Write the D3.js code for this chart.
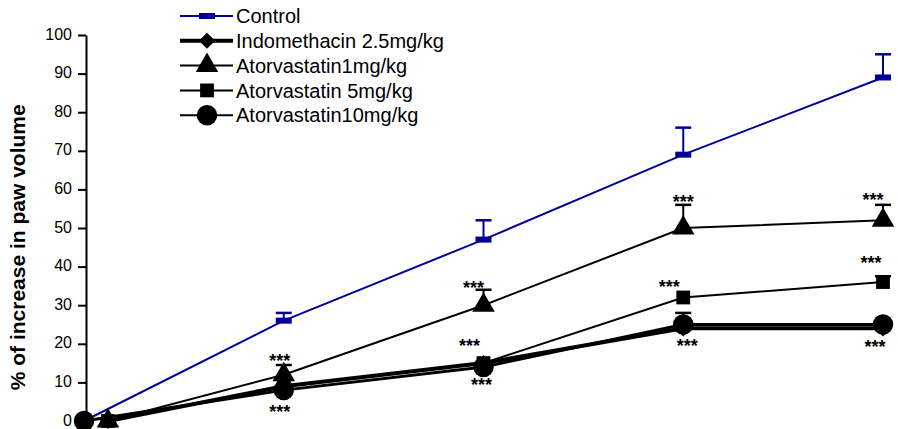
<!DOCTYPE html>
<html>
<head>
<meta charset="utf-8">
<script src="https://cdn.jsdelivr.net/npm/d3@7"></script>
<style>
  body { margin: 0; background: #fff; }
  svg { display: block; font-family: "Liberation Sans", Arial, sans-serif; }
</style>
</head>
<body>
<div id="chart"></div>
<script>
// time points (h)
const times = [0, 1, 2, 3, 4];
const timesShift = [0.12, 1, 2, 3, 4]; // first points drawn slightly right of the axis

const seriesNames = ["Control", "Indomethacin 2.5mg/kg", "Atorvastatin1mg/kg", "Atorvastatin 5mg/kg", "Atorvastatin10mg/kg"];
const control = [0, 26, 47, 69, 89];
const controlErr = [0, 2, 5, 7, 6];
const indomethacin = [0, 9, 15, 24, 24];
const indomethacinErr = [0, 0, 0, 0, 0];
const ator1 = [0, 12, 30, 50, 52];
const ator1Err = [0, 2.5, 4, 6, 4];
const ator5 = [0, 9, 15, 32, 36];
const ator5Err = [0, 0, 0, 0, 1.5];
const ator10 = [0, 8, 14, 25, 25];
const ator10Err = [0, 0, 0, 3, 0];

const yTicks = [0, 10, 20, 30, 40, 50, 60, 70, 80, 90, 100];

// significance marks: time, value
const starTimes = [0.98, 0.98, 1.95, 1.93, 1.99, 3.0, 2.93, 3.02, 3.95, 3.94, 3.96];
const starValues = [16.8, 3.6, 35.7, 20.7, 10.6, 58, 36, 20.7, 58.5, 42.2, 20.5];

const width = 898, height = 429;

const svg = d3.select("#chart").append("svg")
  .attr("width", width)
  .attr("height", height);

const x = d3.scaleLinear().domain([0, 4]).range([84, 883]);
const y = d3.scaleLinear().domain([0, 100]).range([421, 35]);

// y axis
const yAxis = svg.append("g")
  .attr("transform", "translate(86,0)")
  .call(d3.axisLeft(y).tickValues(yTicks).tickSize(8).tickPadding(6).tickSizeOuter(0));
yAxis.select(".domain").attr("stroke", "#000").attr("stroke-width", 2);
yAxis.selectAll(".tick line").attr("stroke", "#000").attr("stroke-width", 2);
yAxis.selectAll(".tick text")
  .attr("font-size", 16)
  .attr("dy", "0.25em")
  .attr("fill", "#000");

svg.append("text")
  .attr("transform", `translate(25,${y(45)}) rotate(-90)`)
  .attr("text-anchor", "middle")
  .attr("font-size", 21)
  .attr("font-weight", "bold")
  .text("% of increase in paw volume");

const symbols = {
  diamond: d3.symbol().type(d3.symbolSquare).size(130),
  triangle: d3.symbol().type(d3.symbolTriangle).size(220),
  square: d3.symbol().type(d3.symbolSquare).size(190),
  circle: d3.symbol().type(d3.symbolCircle).size(330)
};

const series = [
  { name: seriesNames[0], t: times, v: control, e: controlErr, color: "#000099", lw: 2, sym: "rect" },
  { name: seriesNames[3], t: timesShift, v: ator5, e: ator5Err, color: "#000", lw: 2, sym: "square" },
  { name: seriesNames[2], t: timesShift, v: ator1, e: ator1Err, color: "#000", lw: 2, sym: "triangle" },
  { name: seriesNames[1], t: timesShift, v: indomethacin, e: indomethacinErr, color: "#000", lw: 4, sym: "diamond" },
  { name: seriesNames[4], t: times, v: ator10, e: ator10Err, color: "#000", lw: 3, sym: "circle" }
];

const line = d3.line().x(d => x(d[0])).y(d => y(d[1]));

function drawMarker(g, sym, color) {
  if (sym === "rect") {
    g.append("rect").attr("x", -8).attr("y", -3).attr("width", 16).attr("height", 6).attr("fill", color);
  } else if (sym === "diamond") {
    g.append("path").attr("d", symbols.diamond()).attr("transform", "rotate(45)").attr("fill", color);
  } else {
    g.append("path").attr("d", symbols[sym]()).attr("fill", color);
  }
}

series.forEach(s => {
  const pts = s.t.map((t, i) => [t, s.v[i], s.e[i]]);
  const g = svg.append("g");
  g.append("path")
    .attr("d", line(pts))
    .attr("fill", "none")
    .attr("stroke", s.color)
    .attr("stroke-width", s.lw);
  // error bars (upper only)
  pts.filter(p => p[2] > 0).forEach(p => {
    g.append("line")
      .attr("x1", x(p[0])).attr("x2", x(p[0]))
      .attr("y1", y(p[1])).attr("y2", y(p[1] + p[2]))
      .attr("stroke", s.color).attr("stroke-width", 2);
    g.append("line")
      .attr("x1", x(p[0]) - 8).attr("x2", x(p[0]) + 8)
      .attr("y1", y(p[1] + p[2])).attr("y2", y(p[1] + p[2]))
      .attr("stroke", s.color).attr("stroke-width", 2.5);
  });
  pts.forEach(p => {
    const m = g.append("g").attr("transform", `translate(${x(p[0])},${y(p[1])})`);
    drawMarker(m, s.sym, s.color);
  });
});

// stars
svg.append("g").selectAll("text")
  .data(starTimes.map((t, i) => [t, starValues[i]]))
  .join("text")
    .attr("x", d => x(d[0]))
    .attr("y", d => y(d[1]))
    .attr("dy", "0.6em")
    .attr("text-anchor", "middle")
    .attr("font-size", 18)
    .attr("font-weight", "bold")
    .text("***");

// legend
const legendOrder = [
  { name: seriesNames[0], color: "#000099", lw: 2, sym: "rect" },
  { name: seriesNames[1], color: "#000", lw: 4, sym: "diamond" },
  { name: seriesNames[2], color: "#000", lw: 2, sym: "triangle" },
  { name: seriesNames[3], color: "#000", lw: 2, sym: "square" },
  { name: seriesNames[4], color: "#000", lw: 2, sym: "circle" }
];
const legend = svg.append("g").attr("transform", "translate(180,16)");
legendOrder.forEach((s, i) => {
  const row = legend.append("g").attr("transform", `translate(0,${i * 24.8})`);
  row.append("line").attr("x1", 0).attr("x2", 53).attr("stroke", s.color).attr("stroke-width", s.lw);
  const m = row.append("g").attr("transform", "translate(27,0)");
  drawMarker(m, s.sym, s.color);
  row.append("text")
    .attr("x", 56)
    .attr("dy", "0.36em")
    .attr("font-size", 20)
    .text(s.name);
});
</script>
</body>
</html>
